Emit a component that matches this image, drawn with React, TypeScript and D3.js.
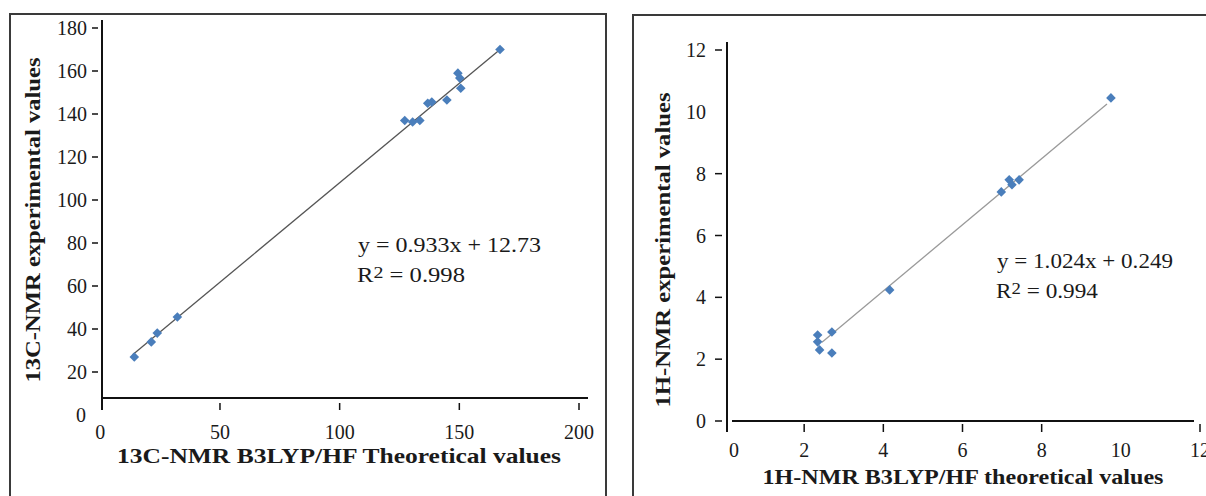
import React from "react";
import * as d3 from "d3";

// 13C-NMR data (theoretical vs experimental)
const c13Theo = [14.2, 21.3, 23.8, 32.2, 127.2, 130.5, 133.5, 136.8, 138.5, 144.8, 149.4, 150.2, 150.6, 167];
const c13Exp = [27, 34, 38.1, 45.6, 137, 136.3, 137, 145, 145.6, 146.5, 159, 156.7, 152, 170];
const c13TrendX = [13.5, 167];
const c13TrendY = [28, 170];
const c13XTicks = [0, 50, 100, 150, 200];
const c13YTicks = [0, 20, 40, 60, 80, 100, 120, 140, 160, 180];
const c13Equation = "y = 0.933x + 12.73";
const c13R2 = "0.998";

// 1H-NMR data
const h1Theo = [2.34, 2.34, 2.39, 2.7, 2.7, 4.16, 6.98, 7.18, 7.25, 7.43, 9.75];
const h1Exp = [2.78, 2.56, 2.3, 2.88, 2.2, 4.24, 7.41, 7.8, 7.64, 7.8, 10.45];
const h1TrendX = [2.45, 9.65];
const h1TrendY = [2.55, 10.25];
const h1XTicks = [0, 2, 4, 6, 8, 10, 12];
const h1YTicks = [0, 2, 4, 6, 8, 10, 12];
const h1Equation = "y = 1.024x + 0.249";
const h1R2 = "0.994";

const FONT = "Liberation Serif, Tinos, Times New Roman, Times, serif";
const MARK = "#4a7ebb";
const TXT = "#1a1a1a";
const TICK_FS = 20;

function Diamond({ x, y }: { x: number; y: number }) {
  const r = 4.8;
  return <path d={`M${x},${y - r}L${x + r},${y}L${x},${y + r}L${x - r},${y}Z`} fill={MARK} />;
}

export default function App() {
  // left chart scales
  const lx = d3.scaleLinear().domain([0, 200]).range([100.3, 579]);
  const ly = d3.scaleLinear().domain([0, 180]).range([415, 28]);
  const lAxisY = 398;
  const lAxisX = 102;
  // right chart scales
  const rx = d3.scaleLinear().domain([0, 12]).range([725, 1200]);
  const ry = d3.scaleLinear().domain([0, 12]).range([421, 50]);
  const rAxisY = 421;
  const rAxisX = 727;

  const lLine = d3.line<number>().x((d) => lx(d)).y((_, i) => ly(c13TrendY[i]));
  const rLine = d3.line<number>().x((d) => rx(d)).y((_, i) => ry(h1TrendY[i]));

  return (
    <svg
      width={1206}
      height={496}
      style={{ position: "absolute", left: 0, top: 0, background: "#fff", fontFamily: FONT }}
    >
      <rect width={1206} height={496} fill="#fff" />
      {/* frames */}
      <path d="M10,500V14H606V500" fill="none" stroke="#3a3a3a" strokeWidth={2} />
      <path d="M633,500V15H1210" fill="none" stroke="#3a3a3a" strokeWidth={2} />

      {/* ===== Left chart ===== */}
      <line x1={lAxisX} y1={20} x2={lAxisX} y2={410} stroke="#111" strokeWidth={2} />
      <line x1={lAxisX} y1={lAxisY} x2={588} y2={lAxisY} stroke="#111" strokeWidth={2} />
      {c13YTicks.map((t) => (
        <g key={"ly" + t}>
          {t > 0 && <line x1={92} x2={98} y1={ly(t)} y2={ly(t)} stroke="#111" strokeWidth={1.5} />}
          <text x={t > 0 ? 87 : 86} y={ly(t)} dy="0.35em" textAnchor="end" fontSize={TICK_FS} fill={TXT}>
            {t}
          </text>
        </g>
      ))}
      {c13XTicks.map((t) => (
        <g key={"lx" + t}>
          {t > 0 && <line x1={lx(t)} x2={lx(t)} y1={403} y2={410} stroke="#111" strokeWidth={1.5} />}
          <text x={lx(t)} y={432} dy="0.35em" textAnchor="middle" fontSize={TICK_FS} fill={TXT}>
            {t}
          </text>
        </g>
      ))}
      <path d={lLine(c13TrendX) || ""} fill="none" stroke="#555" strokeWidth={1.3} />
      {c13Theo.map((v, i) => (
        <Diamond key={"lp" + i} x={lx(v)} y={ly(c13Exp[i])} />
      ))}
      <text x={358} y={252} fontSize={21} fill={TXT} textLength={183} lengthAdjust="spacingAndGlyphs">
        {c13Equation}
      </text>
      <text x={357} y={282} fontSize={21} fill={TXT} textLength={108} lengthAdjust="spacingAndGlyphs">
        R
        <tspan fontSize={17} dy={-4}>2</tspan>
        <tspan dy={4}> = {c13R2}</tspan>
      </text>
      <text
        x={339}
        y={463}
        textAnchor="middle"
        fontSize={21}
        fontWeight="bold"
        fill={TXT}
        textLength={444}
        lengthAdjust="spacingAndGlyphs"
      >
        13C-NMR B3LYP/HF Theoretical values
      </text>
      <text
        transform={`translate(40,220) rotate(-90)`}
        textAnchor="middle"
        fontSize={21}
        fontWeight="bold"
        fill={TXT}
        textLength={325}
        lengthAdjust="spacingAndGlyphs"
      >
        13C-NMR experimental values
      </text>

      {/* ===== Right chart ===== */}
      <line x1={rAxisX} y1={42} x2={rAxisX} y2={432} stroke="#111" strokeWidth={2} />
      <line x1={732} y1={rAxisY} x2={1194} y2={rAxisY} stroke="#111" strokeWidth={2} />
      {h1YTicks.map((t) => (
        <g key={"ry" + t}>
          {t !== 10 && <line x1={715} x2={722} y1={ry(t)} y2={ry(t)} stroke="#111" strokeWidth={1.5} />}
          <text x={706} y={ry(t)} dy="0.35em" textAnchor="end" fontSize={TICK_FS} fill={TXT}>
            {t}
          </text>
        </g>
      ))}
      {h1XTicks.map((t) => (
        <g key={"rx" + t}>
          {t > 0 && t !== 10 && <line x1={rx(t)} x2={rx(t)} y1={424} y2={432} stroke="#111" strokeWidth={1.5} />}
          <text x={t === 0 ? 734 : rx(t)} y={450} dy="0.35em" textAnchor="middle" fontSize={TICK_FS} fill={TXT}>
            {t}
          </text>
        </g>
      ))}
      <path d={rLine(h1TrendX) || ""} fill="none" stroke="#9a9a9a" strokeWidth={1.3} />
      {h1Theo.map((v, i) => (
        <Diamond key={"rp" + i} x={rx(v)} y={ry(h1Exp[i])} />
      ))}
      <text x={997} y={268} fontSize={21} fill={TXT} textLength={176} lengthAdjust="spacingAndGlyphs">
        {h1Equation}
      </text>
      <text x={996} y={298} fontSize={21} fill={TXT} textLength={102} lengthAdjust="spacingAndGlyphs">
        R
        <tspan fontSize={17} dy={-4}>2</tspan>
        <tspan dy={4}> = {h1R2}</tspan>
      </text>
      <text
        x={963}
        y={484}
        textAnchor="middle"
        fontSize={21}
        fontWeight="bold"
        fill={TXT}
        textLength={401}
        lengthAdjust="spacingAndGlyphs"
      >
        1H-NMR B3LYP/HF theoretical values
      </text>
      <text
        transform={`translate(670,250) rotate(-90)`}
        textAnchor="middle"
        fontSize={21}
        fontWeight="bold"
        fill={TXT}
        textLength={315}
        lengthAdjust="spacingAndGlyphs"
      >
        1H-NMR experimental values
      </text>
    </svg>
  );
}
